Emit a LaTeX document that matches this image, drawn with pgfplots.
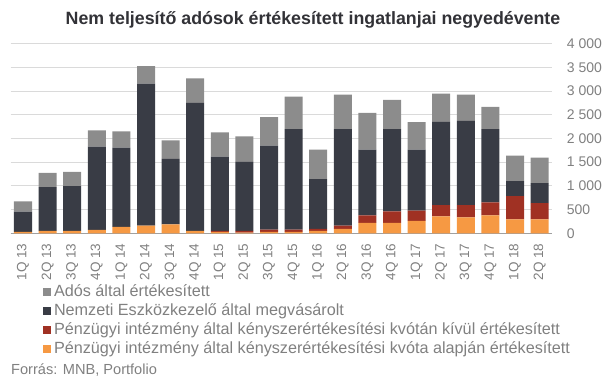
\documentclass[border=0pt]{standalone}
\usepackage{fontspec}
\setmainfont{Liberation Sans}
\usepackage{pgfplots}
\usepackage{pgfplotstable}
\pgfplotsset{compat=1.18}

\definecolor{cGray}{RGB}{140,140,140}
\definecolor{cDark}{RGB}{57,60,69}
\definecolor{cRed}{RGB}{160,49,35}
\definecolor{cOrange}{RGB}{246,153,67}
\definecolor{gridgray}{RGB}{218,218,218}
\definecolor{basegray}{RGB}{160,160,160}
\definecolor{labelgray}{RGB}{128,128,128}
\definecolor{titlecol}{RGB}{50,50,55}

\pgfplotstableread{
x orange red dark gray
0  30   0  427 214
1  50   0  921 300
2  50   0  943 300
3  71   0 1758 342
4  136  0 1671 343
5  164  0 2993 364
6  186  0 1385 386
7  50   0 2700 514
8  30  20 1564 515
9  14  36 1457 536
10 30  49 1771 600
11 30  49 2114 686
12 50  43 1050 621
13 93  71 2029 728
14 221 158 1385 772
15 221 243 1729 621
16 264 215 1285 579
17 357 236 1757 593
18 336 257 1778 550
19 379 271 1543 471
20 293 493 314 536
21 293 343 421 536
}\data

\pgfplotsset{sq legend/.style={legend image code/.code={\fill[##1] (0pt,-4pt) rectangle (8pt,4pt);}}}

\begin{document}
\begin{tikzpicture}[x=1pt,y=1pt]
\path[use as bounding box] (0,0) rectangle (605,378);
\begin{axis}[
  at={(10.7pt,144.7pt)}, anchor=south west,
  scale only axis, width=541.2pt, height=189.8pt,
  xmin=-0.5, xmax=21.5, ymin=0, ymax=4000,
  ybar stacked, bar width=18pt,
  xtick={0,...,21},
  xticklabels={1Q 13,2Q 13,3Q 13,4Q 13,1Q 14,2Q 14,3Q 14,4Q 14,1Q 15,2Q 15,3Q 15,4Q 15,1Q 16,2Q 16,3Q 16,4Q 16,1Q 17,2Q 17,3Q 17,4Q 17,1Q 18,2Q 18},
  x tick label style={rotate=90, anchor=east, inner sep=0pt, font=\fontsize{13.5}{16}\selectfont, text=labelgray},
  xticklabel shift=10pt,
  ytick={0,500,...,4000},
  yticklabel pos=right,
  y tick label style={anchor=west, inner sep=0pt, font=\fontsize{14}{16}\selectfont, text=labelgray},
  yticklabel shift=14.8pt,
  /pgf/number format/assume math mode=true,
  /pgf/number format/1000 sep={\ },
  ymajorgrids, grid style={draw=gridgray, line width=0.9pt},
  axis x line*=bottom, axis y line*=right,
  x axis line style={draw=basegray, line width=1pt, -},
  y axis line style={draw=none},
  major tick length=0pt,
  reverse legend,
  legend style={at={(0.0597,-0.2687)}, anchor=north west, draw=none, fill=none, inner sep=0pt, outer sep=0pt,
    font=\fontsize{16.2}{19}\selectfont, text=labelgray,
    nodes={inner sep=0pt, text height=12pt, text depth=4pt},
    row sep=3pt, column sep=3pt},
  legend cell align=left,
]
\addplot[fill=cOrange, draw=none, sq legend] table[x=x, y=orange] {\data};
\addplot[fill=cRed, draw=none, sq legend] table[x=x, y=red] {\data};
\addplot[fill=cDark, draw=none, sq legend] table[x=x, y=dark] {\data};
\addplot[fill=cGray, draw=none, sq legend] table[x=x, y=gray] {\data};
\legend{Pénzügyi intézmény által kényszerértékesítési kvóta alapján értékesített,
        Pénzügyi intézmény által kényszerértékesítési kvótán kívül értékesített,
        Nemzeti Eszközkezelő által megvásárolt,
        Adós által értékesített}
\end{axis}
\node[anchor=base, font=\bfseries\fontsize{17.8}{20}\selectfont, text=titlecol] at (313,353.7) {Nem teljesítő adósok értékesített ingatlanjai negyedévente};
\node[anchor=base west, inner sep=0pt, font=\fontsize{14.6}{17}\selectfont, text=labelgray] at (11,3.8) {Forrás: MNB, Portfolio};
\end{tikzpicture}
\end{document}
